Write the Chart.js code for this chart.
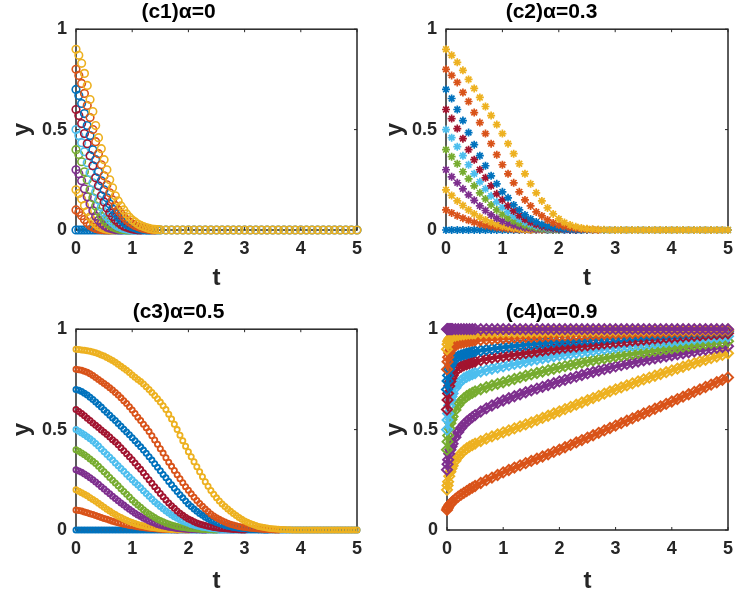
<!DOCTYPE html>
<html>
<head>
<meta charset="utf-8">
<script src="https://cdn.jsdelivr.net/npm/chart.js@4.4.1/dist/chart.umd.min.js"></script>
<style>
  body { margin: 0; background: #fff; }
  #wrap { position: relative; width: 750px; height: 604px; background: #fff; }
  canvas { position: absolute; }
</style>
</head>
<body>
<div id="wrap">
  <canvas id="c1" width="375" height="300" style="left:0;top:0"></canvas>
  <canvas id="c2" width="375" height="300" style="left:375px;top:0"></canvas>
  <canvas id="c3" width="375" height="304" style="left:0;top:300px"></canvas>
  <canvas id="c4" width="375" height="304" style="left:375px;top:300px"></canvas>
</div>
<script>
// matlab default colour order
var colors = ['#0072BD', '#D95319', '#EDB120', '#7E2F8E', '#77AC30', '#4DBEEE', '#A2142F'];

// ---- (c1) alpha = 0 ----
var t1 = [0,0.05,0.1,0.15,0.2,0.25,0.3,0.35,0.4,0.45, 0.5,0.55,0.6,0.65,0.7,0.75,0.8,0.85,0.9,0.95,
  1,1.05,1.1,1.15,1.2,1.25,1.3,1.35,1.4,1.45, 1.5,1.6,1.7,1.8,1.9,2,2.1,2.2,2.3,2.4,
  2.5,2.6,2.7,2.8,2.9,3,3.1,3.2,3.3,3.4, 3.5,3.6,3.7,3.8,3.9,4,4.1,4.2,4.3,4.4, 4.5,4.6,4.7,4.8,4.9,5];
var c1_u00 = [0,0,0,0,0,0,0,0,0,0, 0,0,0,0,0,0,0,0,0,0, 0,0,0,0,0,0,0,0,0,0, 0,0,0,0,0,0,0,0,0,0,
  0,0,0,0,0,0,0,0,0,0, 0,0,0,0,0,0,0,0,0,0, 0,0,0,0,0,0];
var c1_u01 = [0.10,0.088,0.071,0.052,0.035,0.022,0.014,0.008,0.004,0.002,0.001,0,0];
var c1_u02 = [0.20,0.182,0.154,0.122,0.092,0.066,0.044,0.03,0.019,0.012,0.007,0.004,0.002,0,0];
var c1_u03 = [0.30,0.28,0.245,0.205,0.165,0.13,0.096,0.068,0.048,0.034,0.023,0.014,0.009,0.005,0.002,0.001,0];
var c1_u04 = [0.40,0.376,0.34,0.29,0.25,0.20,0.16,0.12,0.092,0.068,0.05,0.035,0.025,0.016,0.011,0.006,0.003,0.002,0,0];
var c1_u05 = [0.50,0.47,0.435,0.39,0.335,0.285,0.235,0.19,0.15,0.115,0.088,0.067,0.05,0.037,0.026,0.018,0.012,0.008,0.005,0.002,0.001,0];
var c1_u06 = [0.60,0.57,0.53,0.48,0.43,0.37,0.32,0.26,0.22,0.17,0.14,0.11,0.086,0.067,0.051,0.038,0.028,0.019,0.014,0.009,0.005,0.003,0.001,0];
var c1_u07 = [0.70,0.67,0.63,0.58,0.52,0.47,0.40,0.35,0.29,0.245,0.20,0.16,0.13,0.105,0.084,0.066,0.05,0.038,0.028,0.021,0.015,0.011,0.006,0.004,0.002,0.001,0];
var c1_u08 = [0.80,0.77,0.73,0.68,0.62,0.56,0.50,0.44,0.38,0.325,0.27,0.225,0.185,0.15,0.122,0.10,0.082,0.065,0.051,0.04,0.031,0.023,0.017,0.012,0.008,0.005,0.003,0.001,0];
var c1_u09 = [0.90,0.87,0.83,0.78,0.72,0.65,0.59,0.52,0.46,0.405,0.35,0.30,0.25,0.21,0.17,0.145,0.12,0.10,0.08,0.064,
  0.05,0.04,0.03,0.023,0.017,0.012,0.008,0.005,0.003,0.002,0.001,
  0,0,0,0,0,0,0,0,0,0, 0,0,0,0,0,0,0,0,0,0, 0,0,0,0,0,0,0,0,0,0, 0,0,0,0,0];

// ---- (c2) alpha = 0.3 ----
var t2 = [0,0.1,0.2,0.3,0.4,0.5,0.6,0.7,0.8,0.9, 1,1.1,1.2,1.3,1.4,1.5,1.6,1.7,1.8,1.9,
  2,2.1,2.2,2.3,2.4,2.5,2.6,2.7,2.8,2.9, 3,3.1,3.2,3.3,3.4,3.5,3.6,3.7,3.8,3.9,
  4,4.1,4.2,4.3,4.4,4.5,4.6,4.7,4.8,4.9, 5];
var c2_u00 = [0,0,0,0,0,0,0,0,0,0, 0,0,0,0,0,0,0,0,0,0, 0,0,0,0,0,0,0,0,0,0, 0,0,0,0,0,0,0,0,0,0, 0,0,0,0,0,0,0,0,0,0, 0];
var c2_u01 = [0.1,0.085,0.071,0.059,0.048,0.038,0.03,0.023,0.017,0.012,0.009,0.006,0.004,0.002,0.001,0];
var c2_u02 = [0.2,0.172,0.145,0.122,0.1,0.08,0.063,0.05,0.038,0.028,0.02,0.014,0.01,0.006,0.004,0.002,0.001,0];
var c2_u03 = [0.3,0.265,0.235,0.205,0.175,0.148,0.12,0.097,0.075,0.058,0.044,0.033,0.024,0.017,0.011,0.007,0.004,0.002,0.001,0];
var c2_u04 = [0.4,0.365,0.33,0.29,0.255,0.22,0.185,0.155,0.125,0.1,0.078,0.06,0.045,0.033,0.023,0.016,0.01,0.006,0.003,0.001,0];
var c2_u05 = [0.5,0.46,0.415,0.37,0.325,0.28,0.24,0.205,0.17,0.14,0.113,0.09,0.07,0.053,0.039,0.028,0.019,0.013,0.008,0.005,0.003,0.001,0];
var c2_u06 = [0.6,0.555,0.505,0.455,0.40,0.35,0.30,0.26,0.22,0.18,0.15,0.12,0.095,0.072,0.053,0.038,0.027,0.018,0.012,0.007,0.004,0.002,0.001,0];
var c2_u07 = [0.7,0.655,0.6,0.545,0.485,0.425,0.37,0.32,0.27,0.23,0.19,0.16,0.125,0.1,0.075,0.055,0.04,0.028,0.019,0.013,0.008,0.005,0.003,0.001,0];
var c2_u08 = [0.8,0.77,0.735,0.685,0.64,0.585,0.535,0.48,0.43,0.375,0.325,0.28,0.235,0.19,0.15,0.12,0.09,0.07,0.05,0.035,0.025,0.017,0.011,0.007,0.004,0.002,0.001,0];
var c2_u09 = [0.9,0.87,0.835,0.795,0.75,0.705,0.66,0.615,0.57,0.525,0.48,0.43,0.38,0.33,0.28,0.23,0.185,0.145,0.11,0.08,
  0.055,0.037,0.025,0.016,0.01,0.006,0.004,0.002,0.001,0,0,
  0,0,0,0,0,0,0,0,0,0, 0,0,0,0,0,0,0,0,0,0];

// ---- (c3) alpha = 0.5 ----
var t3 = [0,0.05,0.1,0.15,0.2,0.25,0.3,0.35,0.4,0.45, 0.5,0.55,0.6,0.65,0.7,0.75,0.8,0.85,0.9,0.95,
  1,1.05,1.1,1.15,1.2,1.25,1.3,1.35,1.4,1.45, 1.5,1.55,1.6,1.65,1.7,1.75,1.8,1.85,1.9,1.95,
  2,2.05,2.1,2.15,2.2,2.25,2.3,2.35,2.4,2.45, 2.5,2.55,2.6,2.65,2.7,2.75,2.8,2.85,2.9,2.95,
  3,3.05,3.1,3.15,3.2,3.25,3.3,3.35,3.4,3.45, 3.5,3.55,3.6,3.65,3.7,3.75,3.8,3.85,3.9,3.95,
  4,4.05,4.1,4.15,4.2,4.25,4.3,4.35,4.4,4.45, 4.5,4.55,4.6,4.65,4.7,4.75,4.8,4.85,4.9,4.95, 5];
var c3_u00 = [0,0,0,0,0,0,0,0,0,0, 0,0,0,0,0,0,0,0,0,0, 0,0,0,0,0,0,0,0,0,0, 0,0,0,0,0,0,0,0,0,0,
  0,0,0,0,0,0,0,0,0,0, 0,0,0,0,0,0,0,0,0,0, 0,0,0,0,0,0,0,0,0,0, 0,0,0,0,0,0,0,0,0,0,
  0,0,0,0,0,0,0,0,0,0, 0,0,0,0,0,0,0,0,0,0, 0];
var c3_u01 = [0.100,0.097,0.094,0.090,0.086,0.081,0.077,0.072,0.067,0.062,
  0.057,0.053,0.048,0.044,0.040,0.036,0.032,0.029,0.026,0.023,
  0.021,0.019,0.016,0.014,0.012,0.010,0.009,0.007,0.006,0.005,
  0.004,0.003,0.002,0.002,0.001,0.001,0];
var c3_u02 = [0.200,0.193,0.186,0.178,0.170,0.161,0.152,0.143,0.133,0.123,
  0.113,0.103,0.094,0.085,0.077,0.069,0.062,0.055,0.048,0.042,
  0.037,0.032,0.028,0.024,0.021,0.018,0.015,0.013,0.011,0.009,
  0.008,0.006,0.005,0.004,0.003,0.002,0.002,0.001,0.001,0,0];
var c3_u03 = [0.300,0.294,0.287,0.279,0.270,0.260,0.250,0.239,0.228,0.216,
  0.204,0.192,0.180,0.168,0.157,0.146,0.135,0.124,0.113,0.103,
  0.093,0.084,0.075,0.067,0.059,0.052,0.045,0.039,0.033,0.028,
  0.024,0.020,0.017,0.014,0.012,0.010,0.008,0.006,0.005,0.004,
  0.003,0.002,0.002,0.001,0.001,0,0];
var c3_u04 = [0.400,0.392,0.384,0.375,0.365,0.354,0.343,0.331,0.318,0.304,
  0.290,0.276,0.262,0.248,0.234,0.220,0.206,0.192,0.178,0.164,
  0.150,0.137,0.125,0.113,0.101,0.090,0.080,0.071,0.062,0.054,
  0.047,0.041,0.035,0.030,0.025,0.021,0.018,0.015,0.013,0.011,
  0.009,0.007,0.006,0.005,0.004,0.003,0.002,0.001,0.001,0,0];
var c3_u05 = [0.500,0.492,0.483,0.474,0.464,0.454,0.443,0.431,0.418,0.404,
  0.390,0.376,0.362,0.348,0.334,0.320,0.306,0.292,0.278,0.264,
  0.250,0.237,0.224,0.210,0.196,0.182,0.168,0.154,0.141,0.129,
  0.117,0.106,0.095,0.085,0.075,0.066,0.058,0.051,0.044,0.038,
  0.033,0.028,0.024,0.020,0.017,0.014,0.012,0.010,0.008,0.006,
  0.005,0.004,0.003,0.002,0.001,0,0];
var c3_u06 = [0.600,0.590,0.580,0.569,0.557,0.545,0.533,0.522,0.510,0.498,
  0.487,0.475,0.463,0.450,0.438,0.424,0.410,0.395,0.380,0.365,
  0.350,0.334,0.318,0.302,0.285,0.268,0.250,0.233,0.216,0.199,
  0.182,0.166,0.150,0.135,0.121,0.108,0.095,0.084,0.073,0.064,
  0.055,0.048,0.041,0.035,0.030,0.026,0.022,0.019,0.016,0.013,
  0.011,0.009,0.007,0.006,0.005,0.004,0.003,0.002,0.001,0,0];
var c3_u07 = [0.700,0.696,0.690,0.681,0.672,0.661,0.650,0.638,0.625,0.612,
  0.598,0.585,0.572,0.558,0.545,0.531,0.517,0.502,0.488,0.474,
  0.460,0.445,0.430,0.414,0.398,0.382,0.365,0.348,0.330,0.312,
  0.295,0.277,0.260,0.242,0.225,0.208,0.192,0.176,0.160,0.145,
  0.130,0.117,0.104,0.093,0.082,0.073,0.064,0.056,0.049,0.043,
  0.037,0.032,0.027,0.023,0.019,0.016,0.013,0.011,0.009,0.007,
  0.006,0.005,0.004,0.003,0.002,0.0015,0.001,0,0];
var c3_u08 = [0.800,0.798,0.795,0.790,0.785,0.778,0.770,0.760,0.750,0.740,
  0.730,0.719,0.708,0.697,0.685,0.672,0.658,0.644,0.630,0.614,
  0.598,0.580,0.562,0.545,0.527,0.509,0.490,0.469,0.448,0.427,
  0.405,0.383,0.360,0.338,0.317,0.296,0.275,0.255,0.235,0.216,
  0.198,0.180,0.163,0.147,0.132,0.118,0.104,0.092,0.080,0.070,
  0.061,0.053,0.046,0.040,0.034,0.029,0.025,0.021,0.018,0.015,
  0.013,0.011,0.009,0.007,0.006,0.005,0.004,0.003,0.002,0.0015,
  0.001,0,0];
var c3_u09 = [0.900,0.899,0.897,0.895,0.893,0.890,0.887,0.883,0.878,0.872,
  0.866,0.859,0.852,0.844,0.836,0.826,0.815,0.805,0.795,0.784,
  0.772,0.761,0.750,0.739,0.727,0.714,0.700,0.685,0.670,0.654,
  0.637,0.619,0.600,0.577,0.553,0.527,0.500,0.472,0.445,0.417,
  0.390,0.365,0.340,0.315,0.290,0.265,0.240,0.218,0.197,0.178,
  0.160,0.145,0.130,0.117,0.105,0.093,0.082,0.072,0.062,0.053,
  0.045,0.038,0.032,0.027,0.022,0.018,0.015,0.012,0.010,0.008,
  0.006,0.005,0.004,0.003,0.002,0.0015,0.001,
  0,0,0,0,0,0,0,0,0,0, 0,0,0,0,0,0,0,0,0,0, 0,0,0,0];

// ---- (c4) alpha = 0.9 ----
var t4 = [0,0.01,0.02,0.04,0.06,0.08,0.1,0.15,0.2,0.25,0.3,0.35,0.4,0.45,0.5,
  0.6,0.7,0.8,0.9,1,1.1,1.2,1.3,1.4,1.5, 1.6,1.7,1.8,1.9,2,2.1,2.2,2.3,2.4,2.5,
  2.6,2.7,2.8,2.9,3,3.1,3.2,3.3,3.4,3.5, 3.6,3.7,3.8,3.9,4,4.1,4.2,4.3,4.4,4.5,
  4.6,4.7,4.8,4.9,5];
var c4_u01 = [0.10,0.108,0.114,0.123,0.13,0.136,0.142,0.155,0.166,0.176,0.185,0.194,0.203,0.211,0.219,
  0.234,0.248,0.261,0.274,0.287,0.299,0.311,0.322,0.333,0.344,
  0.355,0.366,0.377,0.389,0.40,0.412,0.424,0.436,0.448,0.46,
  0.472,0.484,0.496,0.508,0.52,0.532,0.544,0.556,0.568,0.58,
  0.592,0.604,0.616,0.628,0.64,0.652,0.664,0.676,0.688,0.70,
  0.712,0.724,0.736,0.748,0.76];
var c4_u02 = [0.20,0.222,0.24,0.268,0.29,0.306,0.32,0.345,0.365,0.381,0.395,0.406,0.415,0.423,0.43,
  0.443,0.455,0.466,0.476,0.486,0.496,0.506,0.516,0.526,0.536,
  0.547,0.558,0.569,0.58,0.591,0.602,0.613,0.624,0.635,0.646,
  0.657,0.668,0.679,0.69,0.70,0.71,0.72,0.73,0.74,0.75,
  0.759,0.768,0.777,0.786,0.795,0.804,0.813,0.822,0.831,0.84,
  0.848,0.856,0.864,0.872,0.88];
var c4_u03 = [0.30,0.328,0.35,0.38,0.40,0.416,0.43,0.462,0.488,0.508,0.525,0.539,0.551,0.562,0.572,
  0.59,0.606,0.62,0.633,0.645,0.656,0.666,0.676,0.686,0.695,
  0.704,0.713,0.722,0.731,0.74,0.748,0.756,0.764,0.772,0.78,
  0.787,0.794,0.801,0.808,0.815,0.821,0.827,0.833,0.839,0.845,
  0.85,0.855,0.86,0.865,0.87,0.875,0.88,0.885,0.89,0.895,
  0.899,0.903,0.907,0.911,0.915];
var c4_u04 = [0.40,0.44,0.47,0.507,0.532,0.55,0.565,0.598,0.623,0.641,0.655,0.666,0.675,0.683,0.69,
  0.701,0.711,0.72,0.728,0.736,0.744,0.752,0.76,0.768,0.775,
  0.782,0.789,0.796,0.803,0.81,0.816,0.822,0.828,0.834,0.84,
  0.845,0.85,0.855,0.86,0.865,0.869,0.873,0.877,0.881,0.885,
  0.889,0.893,0.897,0.901,0.905,0.909,0.913,0.917,0.921,0.925,
  0.928,0.931,0.934,0.937,0.94];
var c4_u05 = [0.50,0.548,0.58,0.62,0.647,0.665,0.68,0.708,0.728,0.743,0.755,0.763,0.77,0.776,0.781,
  0.789,0.796,0.803,0.809,0.815,0.821,0.827,0.833,0.839,0.845,
  0.85,0.855,0.86,0.865,0.87,0.874,0.878,0.882,0.886,0.89,
  0.894,0.898,0.902,0.906,0.91,0.913,0.916,0.919,0.922,0.925,
  0.928,0.931,0.934,0.937,0.94,0.943,0.946,0.949,0.952,0.955,
  0.957,0.959,0.961,0.963,0.965];
var c4_u06 = [0.60,0.648,0.68,0.717,0.74,0.757,0.77,0.79,0.805,0.813,0.82,0.825,0.83,0.835,0.839,
  0.846,0.852,0.857,0.861,0.865,0.869,0.873,0.877,0.881,0.885,
  0.889,0.893,0.897,0.901,0.905,0.908,0.911,0.914,0.917,0.92,
  0.923,0.926,0.929,0.932,0.935,0.938,0.94,0.943,0.945,0.948,
  0.95,0.953,0.955,0.958,0.96,0.962,0.964,0.966,0.968,0.97,
  0.972,0.974,0.976,0.978,0.98];
var c4_u07 = [0.70,0.742,0.77,0.80,0.818,0.83,0.84,0.855,0.865,0.87,0.875,0.879,0.883,0.887,0.89,
  0.894,0.898,0.902,0.906,0.91,0.913,0.916,0.919,0.922,0.925,
  0.928,0.931,0.934,0.937,0.94,0.942,0.944,0.946,0.948,0.95,
  0.952,0.954,0.956,0.958,0.96,0.962,0.964,0.966,0.968,0.97,
  0.972,0.973,0.975,0.976,0.978,0.979,0.981,0.982,0.984,0.985,
  0.986,0.987,0.988,0.989,0.99];
var c4_u08 = [0.80,0.838,0.86,0.882,0.895,0.903,0.91,0.92,0.928,0.932,0.935,0.938,0.94,0.943,0.945,
  0.947,0.949,0.951,0.953,0.955,0.956,0.958,0.959,0.961,0.962,
  0.963,0.964,0.966,0.967,0.968,0.969,0.97,0.971,0.972,0.973,
  0.974,0.975,0.976,0.977,0.978,0.979,0.98,0.981,0.982,0.983,
  0.984,0.985,0.985,0.986,0.987,0.988,0.988,0.989,0.989,0.99,
  0.991,0.991,0.992,0.992,0.993];
var c4_u09 = [0.90,0.925,0.94,0.95,0.956,0.961,0.965,0.968,0.971,0.973,0.975,0.977,0.978,0.979,0.98,
  0.981,0.982,0.982,0.983,0.984,0.984,0.985,0.985,0.986,0.986,
  0.987,0.987,0.988,0.988,0.989,0.989,0.99,0.99,0.99,0.991,
  0.991,0.991,0.992,0.992,0.992,0.993,0.993,0.993,0.994,0.994,
  0.994,0.995,0.995,0.995,0.995,0.996,0.996,0.996,0.996,0.997,
  0.997,0.997,0.997,0.998,0.998];
var c4_u10 = [1,1,1,1,1,1,1,1,1,1,1,1,1,1,1, 1,1,1,1,1,1,1,1,1,1, 1,1,1,1,1,1,1,1,1,1,
  1,1,1,1,1,1,1,1,1,1, 1,1,1,1,1,1,1,1,1,1, 1,1,1,1,1];

var xTicks = [0, 1, 2, 3, 4, 5];
var yTicks = [0, 0.5, 1];

var FONT = '"Liberation Sans", Arial, Helvetica, sans-serif';
var INK = '#262626';

function pts(ts, ys) {
  return ys.map(function(y, i) { return {x: ts[i], y: y}; });
}

// matlab style box with inward tick marks
var boxPlugin = {
  id: 'box',
  beforeDatasetsDraw: function(chart) {
    var ctx = chart.ctx, a = chart.chartArea;
    var xs = chart.scales.x, ys = chart.scales.y;
    ctx.save();
    ctx.strokeStyle = INK;
    ctx.lineWidth = 1.5;
    ctx.strokeRect(a.left, a.top, a.right - a.left, a.bottom - a.top);
    ctx.lineWidth = 1;
    ctx.beginPath();
    xTicks.forEach(function(v) {
      var px = xs.getPixelForValue(v);
      ctx.moveTo(px, a.bottom); ctx.lineTo(px, a.bottom - 3);
      ctx.moveTo(px, a.top); ctx.lineTo(px, a.top + 3);
    });
    yTicks.forEach(function(v) {
      var py = ys.getPixelForValue(v);
      ctx.moveTo(a.left, py); ctx.lineTo(a.left + 3, py);
      ctx.moveTo(a.right, py); ctx.lineTo(a.right - 3, py);
    });
    ctx.stroke();
    ctx.restore();
  }
};

function makePanel(id, title, ts, curves, colorShift, marker, g) {
  var datasets = curves.map(function(ys, i) {
    var col = colors[(i + colorShift) % colors.length];
    return {
      data: pts(ts, ys),
      showLine: marker.line > 0,
      borderWidth: marker.line,
      pointStyle: marker.shape,
      pointRadius: marker.r,
      pointBorderWidth: marker.bw,
      pointBorderColor: col,
      pointBackgroundColor: 'rgba(0,0,0,0)',
      borderColor: col,
      order: -i,
      clip: false
    };
  });
  new Chart(document.getElementById(id), {
    type: 'line',
    data: { datasets: datasets },
    options: {
      responsive: false,
      animation: false,
      devicePixelRatio: 1,
      layout: { padding: { left: 0, right: g.padR, top: 0, bottom: 0 } },
      plugins: {
        legend: { display: false },
        tooltip: { enabled: false },
        title: {
          display: true, text: title, color: '#000',
          font: { family: FONT, size: 21, weight: 'bold' },
          padding: { top: 0, bottom: 4 }
        }
      },
      scales: {
        x: {
          type: 'linear', min: 0, max: 5,
          afterBuildTicks: function(s) { s.ticks = xTicks.map(function(v) { return {value: v}; }); },
          ticks: { color: INK, padding: 8, font: { family: FONT, size: 18, weight: 'bold' },
            callback: function(v) { return String(v); } },
          grid: { display: false, drawTicks: false },
          border: { display: false },
          title: { display: true, text: 't', color: INK, font: { family: FONT, size: 24, weight: 'bold' }, padding: { top: 0, bottom: g.xtPad } },
          afterFit: function(s) { s.height = g.xH; }
        },
        y: {
          type: 'linear', min: 0, max: 1,
          afterBuildTicks: function(s) { s.ticks = yTicks.map(function(v) { return {value: v}; }); },
          ticks: { color: INK, padding: 9, font: { family: FONT, size: 18, weight: 'bold' },
            callback: function(v) { return String(v); } },
          grid: { display: false, drawTicks: false },
          border: { display: false },
          title: { display: true, text: 'y', color: INK, font: { family: FONT, size: 24, weight: 'bold' }, padding: { top: g.ytPad, bottom: 0 } },
          afterFit: function(s) { s.width = g.yW; }
        }
      }
    },
    plugins: [boxPlugin]
  });
}

makePanel('c1', '(c1)α=0', t1,
  [c1_u00, c1_u01, c1_u02, c1_u03, c1_u04, c1_u05, c1_u06, c1_u07, c1_u08, c1_u09], 0,
  { shape: 'circle', r: 3.8, bw: 1.6, line: 0 },
  { yW: 76, padR: 18, xH: 70, xtPad: 7, ytPad: 8 });

makePanel('c2', '(c2)α=0.3', t2,
  [c2_u00, c2_u01, c2_u02, c2_u03, c2_u04, c2_u05, c2_u06, c2_u07, c2_u08, c2_u09], 0,
  { shape: 'star', r: 4, bw: 1.7, line: 0 },
  { yW: 71, padR: 22, xH: 70, xtPad: 7, ytPad: 6 });

makePanel('c3', '(c3)α=0.5', t3,
  [c3_u00, c3_u01, c3_u02, c3_u03, c3_u04, c3_u05, c3_u06, c3_u07, c3_u08, c3_u09], 0,
  { shape: 'circle', r: 2.6, bw: 1.8, line: 0 },
  { yW: 76, padR: 18, xH: 74, xtPad: 8, ytPad: 8 });

makePanel('c4', '(c4)α=0.9', t4,
  [c4_u01, c4_u02, c4_u03, c4_u04, c4_u05, c4_u06, c4_u07, c4_u08, c4_u09, c4_u10], 1,
  { shape: 'rectRot', r: 5, bw: 2, line: 4 },
  { yW: 72, padR: 22, xH: 74, xtPad: 8, ytPad: 6 });
</script>
</body>
</html>
